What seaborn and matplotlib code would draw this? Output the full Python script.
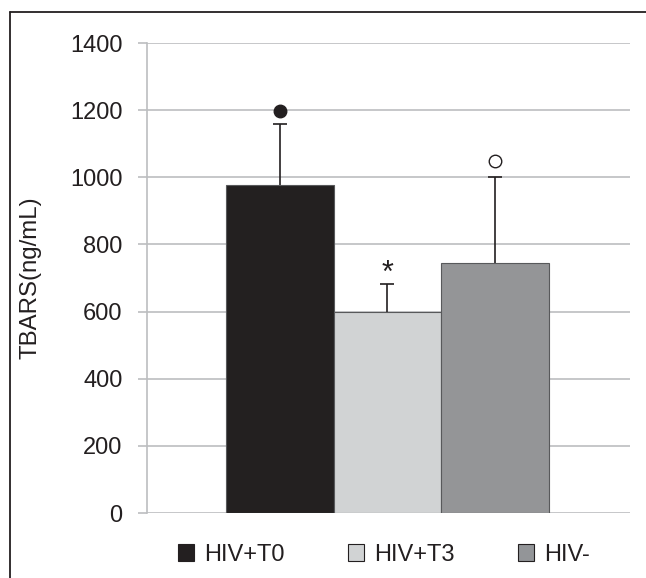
import matplotlib
matplotlib.use("Agg")
import matplotlib.pyplot as plt
from matplotlib.patches import Patch
from matplotlib.lines import Line2D
import seaborn as sns
import pandas as pd

groups = ["HIV+T0", "HIV+T3", "HIV-"]
means = [977, 598, 745]
sds = [183, 85, 256]
colors = ["#231f20", "#d1d3d4", "#939598"]
sig_marks = ["filled", "*", "open"]
sig_y = [1196, 712, 1050]
yticks = [0, 200, 400, 600, 800, 1000, 1200, 1400]
ylabel = "TBARS(ng/mL)"

sns.set_theme(style="white")
plt.rcParams["font.family"] = ["Liberation Sans", "DejaVu Sans"]

W, H = 646, 578
fig = plt.figure(figsize=(W / 100, H / 100), dpi=100)
ax = fig.add_axes([147 / W, 65 / H, (630 - 147) / W, (513 - 43) / H])

df = pd.DataFrame({"group": groups, "mean": means})
sns.barplot(data=df, x="group", y="mean", hue="group", palette=colors,
            width=1.0, legend=False, ax=ax, edgecolor="#58595b", linewidth=0.8,
            zorder=2)

xs = list(range(len(groups)))
# symmetric error bars drawn beneath the bars, so only the upper half shows
ax.errorbar(xs, means, yerr=sds, fmt="none",
            ecolor="#231f20", elinewidth=1.2, capsize=4.7, capthick=1.2, zorder=1.5)

for x, kind, y in zip(xs, sig_marks, sig_y):
    if kind == "filled":
        ax.plot([x], [y], marker="o", markersize=9, color="#231f20", zorder=4)
    elif kind == "open":
        ax.plot([x], [y], marker="o", markersize=9, markerfacecolor="white",
                markeredgecolor="#231f20", markeredgewidth=1.0, zorder=4)
    else:
        ax.text(x, y, kind, ha="center", va="center", fontsize=22,
                color="#231f20", zorder=4)

ax.set_xlim(-1.233, 3.252)
ax.set_ylim(0, 1400)
ax.set_yticks(yticks)
ax.set_yticklabels([str(t) for t in yticks])
ax.set_xticks([])
ax.set_xlabel("")
ax.set_ylabel(ylabel, fontsize=17.3, color="#231f20")
ax.yaxis.set_label_coords(-(147 - 42) / (630 - 147), 0.5)

ax.set_axisbelow(True)
ax.yaxis.grid(True, color="#bcbec0", linewidth=1.2, zorder=0)
ax.xaxis.grid(False)
for s in ["top", "right", "bottom"]:
    ax.spines[s].set_visible(False)
ax.spines["left"].set_color("#bcbec0")
ax.spines["left"].set_linewidth(1.2)
ax.tick_params(axis="y", length=6.5, width=1.2, color="#bcbec0", pad=11,
               labelsize=17, labelcolor="#231f20", left=True)

handles = [Patch(facecolor=c, edgecolor="#231f20", linewidth=0.8) for c in colors]
fig.legend(handles, groups, loc="center", bbox_to_anchor=(0.594, 1 - 555 / H),
           ncol=3, frameon=False, fontsize=17, handlelength=0.7, handleheight=0.7,
           handletextpad=0.42, columnspacing=2.67, labelcolor="#231f20")

fig.add_artist(Line2D([10 / W, 10 / W], [0, 1 - 12 / H], transform=fig.transFigure,
                      color="#231f20", linewidth=1.3))
fig.add_artist(Line2D([10 / W, 1], [1 - 12 / H, 1 - 12 / H], transform=fig.transFigure,
                      color="#231f20", linewidth=1.3))

fig.savefig("out.png", dpi=100)
